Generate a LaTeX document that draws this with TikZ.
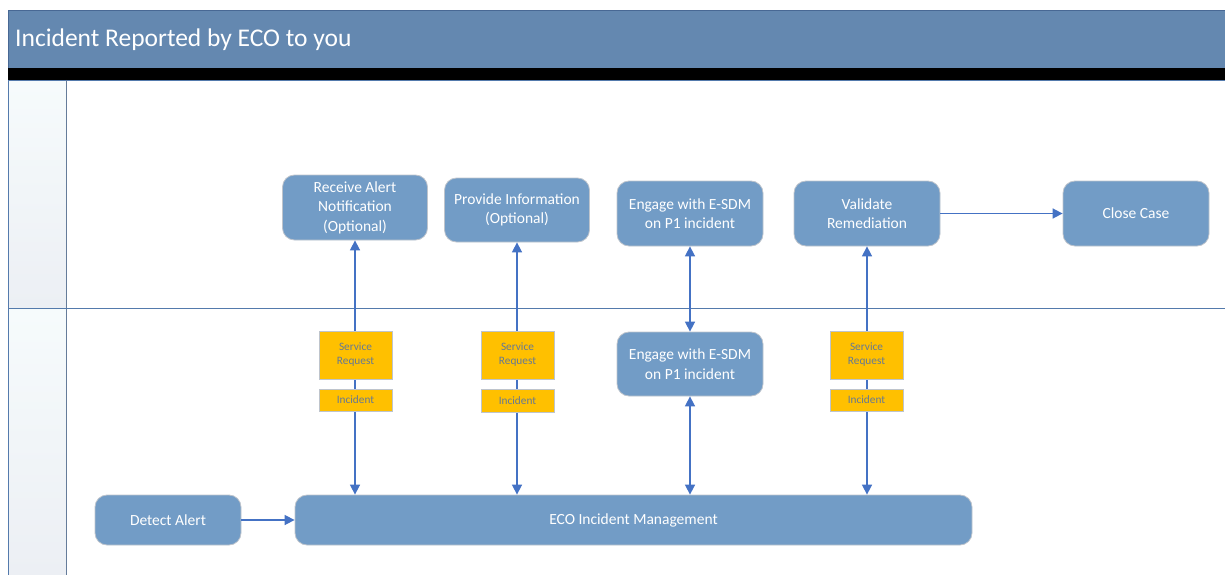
\documentclass[tikz,border=0pt]{standalone}
\usepackage{fontspec}
\setmainfont{Carlito}
\usetikzlibrary{arrows.meta}
\definecolor{titlebg}{RGB}{100,136,176}
\definecolor{titleedge}{RGB}{72,104,148}
\definecolor{boxfill}{RGB}{114,156,198}
\definecolor{boxedge}{RGB}{190,196,204}
\definecolor{arrowblue}{RGB}{68,114,196}
\definecolor{laneline}{RGB}{84,122,172}
\definecolor{lefttop}{RGB}{246,251,252}
\definecolor{leftbot}{RGB}{236,239,244}
\definecolor{ytag}{RGB}{255,192,0}
\definecolor{ytext}{RGB}{100,120,150}
\tikzset{
  proc/.style={draw=boxedge, line width=0.8pt, fill=boxfill, rounded corners=12pt,
    text=white, font=\fontsize{15.5}{19.5}\selectfont, align=center, inner sep=0pt},
  tag/.style={draw=boxedge, line width=0.8pt, fill=ytag, text=ytext,
    font=\fontsize{11.3}{14}\selectfont, align=center, inner sep=0pt,
    minimum width=73pt},
  link/.style={draw=arrowblue, line width=1.6pt},
  tip/.style={-{Triangle[length=10pt,width=10pt]}},
  dtip/.style={{Triangle[length=10pt,width=10pt]}-{Triangle[length=10pt,width=10pt]}},
}
\begin{document}
\begin{tikzpicture}[x=1pt,y=-1pt]
\useasboundingbox (0,0) rectangle (1225,575);
% left column
\shade[top color=lefttop, bottom color=leftbot] (8,80) rectangle (66,308);
\shade[top color=lefttop, bottom color=leftbot] (8,308) rectangle (66,575);
% title bar
\fill[titlebg] (8,10) rectangle (1225,68);
\draw[titleedge, line width=0.8pt] (8,68) -- (8,10) -- (1225,10);
\node[anchor=west, text=white, font=\fontsize{25.5}{30}\selectfont, inner sep=0pt] (title) at (15,40) {Incident Reported by ECO to you};
\fill[black] (8,68) rectangle (1225,80);
\draw[laneline, line width=0.8pt] (8,80) -- (1225,80);
% lane lines
\draw[laneline, line width=0.8pt] (8,80) -- (8,575);
\draw[laneline!60!gray, line width=1pt] (66,80) -- (66,575);
\draw[laneline, line width=0.8pt] (8,308) -- (1225,308);

% process nodes
\node[proc, minimum width=145pt, minimum height=65pt] (ra) at (355,207.5) {Receive Alert\\Notification\\(Optional)};
\node[proc, minimum width=145pt, minimum height=64pt] (pi) at (517,210) {Provide Information\\(Optional)};
\node[proc, minimum width=146pt, minimum height=65pt] (e1) at (690,213.5) {Engage with E-SDM\\on P1 incident};
\node[proc, minimum width=146pt, minimum height=65pt] (vr) at (867,213.5) {Validate\\Remediation};
\node[proc, minimum width=146pt, minimum height=65pt] (cc) at (1136,213.5) {Close Case};
\node[proc, minimum width=146pt, minimum height=64pt] (e2) at (690,364) {Engage with E-SDM\\on P1 incident};
\node[proc, minimum width=146pt, minimum height=50pt] (da) at (168,520) {Detect Alert};
\node[proc, minimum width=677pt, minimum height=50pt] (eco) at (633.5,520) {ECO Incident Management};

% connectors
\draw[link, dtip] (ra.south) -- (eco.north -| ra.south);
\draw[link, dtip] (pi.south) -- (eco.north -| pi.south);
\draw[link, dtip] (e1.south) -- (e2.north);
\draw[link, dtip] (e2.south) -- (eco.north -| e2.south);
\draw[link, dtip] (vr.south) -- (eco.north -| vr.south);
\draw[link, tip] (vr.east |- cc.west) -- (cc.west);
\draw[link, tip] (da.east) -- (eco.west);

% tags
\node[tag, minimum height=48pt] (sr1) at (355.5,355) {Service\\Request};
\node[tag, minimum height=22pt] (in1) at (355.5,400) {Incident};
\node[tag, minimum height=48pt] (sr2) at (517.5,355) {Service\\Request};
\node[tag, minimum height=23pt] (in2) at (517.5,400.5) {Incident};
\node[tag, minimum height=48pt] (sr3) at (866.5,355) {Service\\Request};
\node[tag, minimum height=22pt] (in3) at (866.5,400) {Incident};
\end{tikzpicture}
\end{document}
